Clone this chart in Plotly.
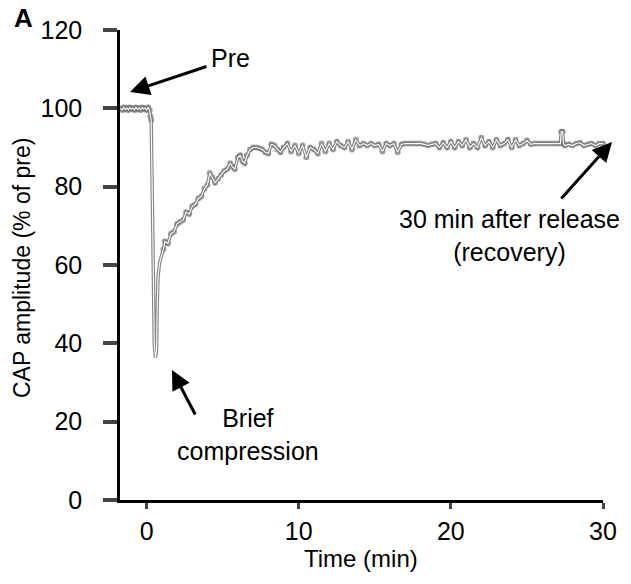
import plotly.graph_objects as go

# ---- data ----
time_min = [
    -1.75, -1.6, -1.5, -1.4, -1.3, -1.2, -1.1, -1.0, -0.9, -0.8, -0.7, -0.6, -0.5,
    -0.4, -0.3, -0.2, -0.1, 0.0, 0.1, 0.2, 0.25, 0.3, 0.4, 0.5, 0.58, 0.65, 0.7,
    0.75, 0.85, 1.0, 1.1, 1.2, 1.4, 1.6, 1.8, 2.0, 2.2, 2.4, 2.6, 2.8, 3.0, 3.2,
    3.4, 3.6, 3.8, 4.0, 4.15, 4.3, 4.5, 4.7, 4.9, 5.1, 5.3, 5.5, 5.65, 5.8, 6.0,
    6.15, 6.3, 6.45, 6.6, 6.8, 7.0, 7.2, 7.4, 7.6, 7.8, 8.0, 8.2, 8.4, 8.6, 8.8,
    9.0, 9.25, 9.5, 9.75, 10.0, 10.25, 10.5, 10.75, 11.0, 11.25, 11.5, 11.75,
    12.0, 12.25, 12.5, 12.75, 13.0, 13.25, 13.5, 13.75, 14.0, 14.25, 14.5, 14.75,
    15.0, 15.25, 15.5, 15.75, 16.0, 16.25, 16.5, 16.75, 17.0, 17.25, 17.5, 17.75,
    18.0, 18.25, 18.5, 18.75, 19.0, 19.25, 19.5, 19.75, 20.0, 20.25, 20.5, 20.75,
    21.0, 21.25, 21.5, 21.75, 22.0, 22.25, 22.5, 22.75, 23.0, 23.25, 23.5, 23.75,
    24.0, 24.25, 24.5, 24.75, 25.0, 25.25, 25.5, 25.75, 26.0, 26.25, 26.5, 26.75,
    27.0, 27.2, 27.25, 27.35, 27.4, 27.5, 27.75, 28.0, 28.25, 28.5, 28.75, 29.0,
    29.25, 29.5, 29.75, 30.0,
]
cap_pct = [
    100.0, 99.6, 100.2, 99.7, 100.1, 99.6, 100.2, 99.8, 100.1, 99.6, 100.2, 99.7,
    100.1, 99.6, 100.2, 99.8, 100.1, 99.6, 100.2, 99.5, 98.0, 97.0, 70.0, 40.0,
    36.3, 38.0, 50.0, 57.0, 60.5, 62.5, 64.0, 66.0, 65.5, 68.0, 68.5, 70.5, 71.0,
    71.5, 73.5, 73.0, 75.0, 75.5, 77.0, 77.5, 79.5, 80.5, 83.5, 82.5, 81.0, 82.0,
    83.0, 84.0, 84.5, 86.0, 85.0, 84.5, 87.5, 88.0, 86.5, 86.0, 88.0, 89.5, 90.0,
    90.0, 89.8, 89.5, 88.8, 88.5, 90.8, 90.5, 89.5, 88.8, 90.0, 91.0, 89.0, 90.5,
    88.5, 90.5, 87.5, 90.0, 89.5, 88.5, 91.0, 89.0, 91.0, 89.5, 91.5, 90.5, 90.0,
    91.5, 89.5, 92.0, 90.5, 91.0, 90.5, 91.0, 90.5, 90.8, 89.0, 91.0, 90.5, 91.0,
    88.8, 90.8, 91.0, 91.0, 91.0, 91.0, 91.0, 90.8, 90.5, 90.8, 91.0, 90.0, 91.2,
    90.0, 91.5, 90.0, 91.5, 90.5, 92.0, 90.0, 91.0, 90.0, 92.5, 90.5, 91.5, 90.0,
    92.0, 90.5, 91.0, 92.0, 90.0, 92.0, 90.5, 91.0, 91.8, 90.8, 91.0, 91.0, 91.0,
    91.0, 91.0, 91.0, 91.0, 91.0, 94.0, 94.0, 91.0, 90.5, 90.8, 90.5, 91.0, 91.2,
    90.5, 90.8, 91.0, 90.5, 91.0, 91.0,
]

x_ticks = [0, 10, 20, 30]
y_ticks = [0, 20, 40, 60, 80, 100, 120]

FONT = "Arial, Liberation Sans, sans-serif"
TICK_FS = 25
TITLE_FS = 23
NOTE_FS = 25

# plot area in pixels (for paper-coordinate placement)
L, R, T, B = 120, 28, 30, 84
W, H = 631, 584
PW, PH = W - L - R, H - T - B


def px(xp):
    return (xp - L) / PW


def py(yp):
    return (H - B - yp) / PH


# no markers on the fast drop/recovery transient (styling only)
marker_sizes = [0 if 0.3 < t < 1.05 else 6 for t in time_min]

fig = go.Figure()
fig.add_trace(go.Scatter(
    x=time_min, y=cap_pct, mode="lines+markers",
    line=dict(color="#858585", width=3.4),
    marker=dict(symbol="circle", size=marker_sizes, color="#777777",
                line=dict(width=0)),
    showlegend=False, hoverinfo="skip", cliponaxis=False,
))
fig.add_trace(go.Scatter(
    x=time_min, y=cap_pct, mode="lines",
    line=dict(color="white", width=1.1),
    showlegend=False, cliponaxis=False, hoverinfo="skip",
))

arrow = dict(showarrow=True, arrowhead=2, arrowsize=1.3, arrowwidth=3,
             arrowcolor="black", text="", xref="paper", yref="paper",
             axref="pixel", ayref="pixel")
fig.add_annotation(x=px(130), y=py(92), ax=78, ay=-26, **arrow)
fig.add_annotation(x=px(172), y=py(370), ax=24, ay=46, **arrow)
fig.add_annotation(x=px(612), y=py(142), ax=-52, ay=58, **arrow)

txt = dict(showarrow=False, xref="paper", yref="paper",
           font=dict(family=FONT, size=NOTE_FS, color="black"))
fig.add_annotation(x=px(209), y=py(58), text="Pre", xanchor="left", yanchor="middle", **txt)
fig.add_annotation(x=px(248), y=py(434), text="Brief<br>compression", xanchor="center",
                   yanchor="middle", **txt)
fig.add_annotation(x=px(509), y=py(236), text="30 min after release<br>(recovery)",
                   xanchor="center", yanchor="middle", **txt)
fig.add_annotation(x=px(23), y=py(18), text="<b>A</b>", showarrow=False,
                   xref="paper", yref="paper", xanchor="center", yanchor="middle",
                   font=dict(family=FONT, size=26, color="black"))
# axis titles
fig.add_annotation(x=px(22), y=py(268), text="CAP amplitude (% of pre)", textangle=-90,
                   showarrow=False, xref="paper", yref="paper", xanchor="center",
                   yanchor="middle", font=dict(family=FONT, size=TITLE_FS, color="black"))
fig.add_annotation(x=px(361), y=py(558), text="Time (min)",
                   showarrow=False, xref="paper", yref="paper", xanchor="center",
                   yanchor="middle", font=dict(family=FONT, size=24, color="black"))

fig.update_layout(
    width=W, height=H,
    margin=dict(l=L, r=R, t=T, b=B, autoexpand=False),
    paper_bgcolor="white", plot_bgcolor="white",
    font=dict(family=FONT, size=TICK_FS, color="black"),
    xaxis=dict(range=[-1.75, 30], tickvals=x_ticks, ticks="outside", ticklen=6,
               tickwidth=3, showline=True, linewidth=2.5, linecolor="black",
               showgrid=False, zeroline=False, automargin=False, ticklabelstandoff=1,
               tickfont=dict(size=TICK_FS)),
    yaxis=dict(range=[0, 120], tickvals=y_ticks, ticks="outside", ticklen=14,
               tickwidth=4, showline=True, linewidth=2.5, linecolor="black",
               showgrid=False, zeroline=False, ticklabelstandoff=16, automargin=False,
               tickfont=dict(size=TICK_FS)),
)

fig.write_html("out.html", config={"displayModeBar": False},
               post_script="document.body.style.margin='0px';")
